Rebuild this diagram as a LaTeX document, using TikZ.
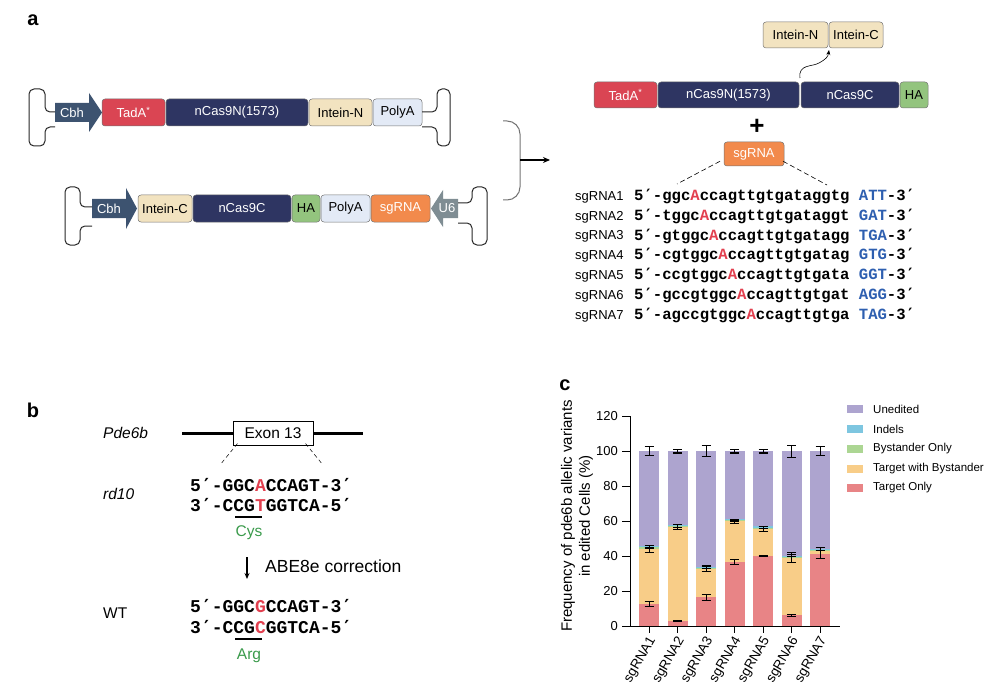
\documentclass[tikz,border=0pt]{standalone}
\usepackage{fontspec}
\setmainfont{Liberation Sans}
\newfontfamily\seqfont{Liberation Mono}
\newfontfamily\primefont{DejaVu Sans Mono}
\usetikzlibrary{arrows.meta}
\newcommand{\myfs}[1]{\fontsize{#1}{#1}\selectfont}
\definecolor{cbh}{HTML}{3D5370}
\definecolor{tada}{HTML}{DA4553}
\definecolor{ncas}{HTML}{2E3562}
\definecolor{intein}{HTML}{F2E3C0}
\definecolor{polya}{HTML}{E3EAF6}
\definecolor{haC}{HTML}{93C47E}
\definecolor{sgr}{HTML}{F28A4C}
\definecolor{usix}{HTML}{7F8D93}
\definecolor{seqred}{HTML}{E2404F}
\definecolor{pamblue}{HTML}{2E5FB0}
\definecolor{aagreen}{HTML}{3A9A4B}
\definecolor{cUned}{HTML}{ADA4CF}
\definecolor{cIndel}{HTML}{7EC6E0}
\definecolor{cByst}{HTML}{ACD693}
\definecolor{cTwB}{HTML}{F8CD88}
\definecolor{cTO}{HTML}{E88486}
\newcommand{\rA}[1]{\textcolor{seqred}{#1}}
\newcommand{\bP}[1]{\textcolor{pamblue}{#1}}
\newcommand{\pr}{{\primefont ′}}
\begin{document}
\begin{tikzpicture}[x=1pt,y=-1pt,
  gbox/.style={draw=black!55, line width=0.5pt, rounded corners=3pt, inner sep=0pt, minimum height=27pt, font=\myfs{13}},
  bkt/.style={draw=black!85, line width=1pt, rounded corners=5pt},
  plab/.style={font=\myfs{20}\bfseries, inner sep=0pt},
  seqa/.style={font=\seqfont\bfseries\myfs{15.6}, anchor=west, inner sep=0pt, text height=10pt, text depth=3pt},
  seqb/.style={font=\seqfont\bfseries\myfs{18}, anchor=west, inner sep=0pt, text height=11pt, text depth=3pt},
  lbl/.style={font=\myfs{13}, anchor=west, inner sep=0pt, text height=9.5pt, text depth=3pt},
  txtb/.style={font=\myfs{15.5}, anchor=west, inner sep=0pt},
  errb/.style={line width=1pt, draw=black},
  legsw/.style={minimum width=16pt, minimum height=8pt, inner sep=0pt},
  legtx/.style={font=\myfs{11.5}, anchor=west, inner sep=0pt},
]
\useasboundingbox (0,0) rectangle (1002,698);

% ---------------- panel a ----------------
\node[plab] (la) at (33,20) {a};

% plasmid 1
\fill[cbh] (55,103) -- (89,103) -- (89,93) -- (102,112.5) -- (89,132) -- (89,122) -- (55,122) -- cycle;
\node[font=\myfs{13}, text=white] (cbh1) at (72,112.5) {Cbh};
\node[gbox, fill=tada, text=white, minimum width=63pt] (tada1) at (133.5,112.5) {TadA\textsuperscript{*}};
\node[gbox, fill=ncas, text=white, minimum width=142pt] (ncasN1) at (237,112.5) {nCas9N(1573)};
\node[gbox, fill=intein, minimum width=63pt] (intN1) at (340.5,112.5) {Intein-N};
\node[gbox, fill=polya, minimum width=49pt] (polyA1) at (397.5,112.5) {PolyA};
\draw[bkt] (55,112) -- (45,112) -- (45,89) -- (29,89) -- (29,146) -- (45,146) -- (45,127) -- (55,127);
\draw[bkt] (422,112) -- (437,112) -- (437,89) -- (450,89) -- (450,146) -- (437,146) -- (437,127) -- (422,127);

% plasmid 2
\fill[cbh] (92,199) -- (126,199) -- (126,188) -- (137,208.5) -- (126,229) -- (126,218) -- (92,218) -- cycle;
\node[font=\myfs{13}, text=white] (cbh2) at (109,208.5) {Cbh};
\node[gbox, fill=intein, minimum width=54pt] (intC2) at (165,208.5) {Intein-C};
\node[gbox, fill=ncas, text=white, minimum width=98pt] (ncasC2) at (242,208.5) {nCas9C};
\node[gbox, fill=haC, minimum width=28pt] (ha2) at (306,208.5) {HA};
\node[gbox, fill=polya, minimum width=49pt] (polyA2) at (345.5,208.5) {PolyA};
\node[gbox, fill=sgr, text=white, minimum width=59pt] (sg2) at (400.5,208.5) {sgRNA};
\fill[usix] (431,208.5) -- (443,190) -- (443,199) -- (458,199) -- (458,218) -- (443,218) -- (443,227) -- cycle;
\node[font=\myfs{13}, text=white] (u6) at (447,208.5) {U6};
\draw[bkt] (92,207) -- (80,207) -- (80,187) -- (65,187) -- (65,245) -- (80,245) -- (80,226) -- (92,226);
\draw[bkt] (458,203) -- (472,203) -- (472,187) -- (487,187) -- (487,245) -- (472,245) -- (472,223) -- (458,223);

% merge bracket and arrow
\draw[draw=black!55, line width=1pt, rounded corners=13pt] (503,121) -- (520,121) -- (520,200) -- (503,200);
\coordinate (mfrom) at (520,160);
\coordinate (mto) at (550,160);
\draw[line width=1.6pt, -{Stealth[length=7pt,width=6pt]}] (mfrom) -- (mto);

% assembled protein
\node[gbox, fill=intein, minimum width=65pt, minimum height=26pt] (intN3) at (795.5,35) {Intein-N};
\node[gbox, fill=intein, minimum width=54pt, minimum height=26pt] (intC3) at (856,35) {Intein-C};
\node[gbox, fill=tada, text=white, minimum width=63pt, minimum height=26pt] (tada3) at (625.5,95) {TadA\textsuperscript{*}};
\node[gbox, fill=ncas, text=white, minimum width=141pt, minimum height=26pt] (ncasN3) at (728.5,95) {nCas9N(1573)};
\node[gbox, fill=ncas, text=white, minimum width=98pt, minimum height=26pt] (ncasC3) at (850,95) {nCas9C};
\node[gbox, fill=haC, minimum width=28pt, minimum height=26pt] (ha3) at (914,95) {HA};
\coordinate (jn) at (800,78);
\coordinate (ji) at (829,50);
\draw[line width=0.6pt, -{Stealth[length=5pt,width=4pt]}] (jn) .. controls (798,64) and (812,67) .. (819,63) .. controls (826,59) and (828,57) .. (ji);
\node[font=\myfs{26}\bfseries, inner sep=0pt] (plus) at (757,127) {+};
\node[gbox, fill=sgr, text=white, minimum width=60pt, minimum height=24pt] (sg3) at (754,154) {sgRNA};
\coordinate (dl) at (677,184);
\coordinate (dr) at (827,185);
\draw[line width=0.6pt, dash pattern=on 5pt off 3pt] ([xshift=-34pt,yshift=5pt]sg3.south) -- (dl);
\draw[line width=0.6pt, dash pattern=on 5pt off 3pt] ([xshift=29pt,yshift=5pt]sg3.south) -- (dr);

% sgRNA sequences
\node[lbl] (s1) at (575,197) {sgRNA1};
\node[lbl] (s2) at (575,216.8) {sgRNA2};
\node[lbl] (s3) at (575,236.6) {sgRNA3};
\node[lbl] (s4) at (575,256.4) {sgRNA4};
\node[lbl] (s5) at (575,276.2) {sgRNA5};
\node[lbl] (s6) at (575,296) {sgRNA6};
\node[lbl] (s7) at (575,315.8) {sgRNA7};
\node[seqa] (q1) at (634,197) {5\pr-ggc\rA{A}ccagttgtgataggtg \bP{ATT}-3\pr};
\node[seqa] (q2) at (634,216.8) {5\pr-tggc\rA{A}ccagttgtgataggt \bP{GAT}-3\pr};
\node[seqa] (q3) at (634,236.6) {5\pr-gtggc\rA{A}ccagttgtgatagg \bP{TGA}-3\pr};
\node[seqa] (q4) at (634,256.4) {5\pr-cgtggc\rA{A}ccagttgtgatag \bP{GTG}-3\pr};
\node[seqa] (q5) at (634,276.2) {5\pr-ccgtggc\rA{A}ccagttgtgata \bP{GGT}-3\pr};
\node[seqa] (q6) at (634,296) {5\pr-gccgtggc\rA{A}ccagttgtgat \bP{AGG}-3\pr};
\node[seqa] (q7) at (634,315.8) {5\pr-agccgtggc\rA{A}ccagttgtga \bP{TAG}-3\pr};

% ---------------- panel b ----------------
\node[plab] (lb) at (33,410) {b};
\node[txtb, font=\myfs{15.5}\itshape] (pde) at (103,433) {Pde6b};
\node[draw, line width=1pt, minimum width=80pt, minimum height=24pt, inner sep=0pt, font=\myfs{15.5}] (exon) at (273,433) {Exon 13};
\coordinate (gl) at (182,433);
\coordinate (gr) at (363,433);
\draw[line width=3pt] (gl) -- (exon.west);
\draw[line width=3pt] (exon.east) -- (gr);
\coordinate (edl) at (220,465);
\coordinate (edr) at (323,465);
\draw[line width=0.5pt, dash pattern=on 4pt off 3pt] ([xshift=5pt,yshift=2pt]exon.south west) -- (edl);
\draw[line width=0.5pt, dash pattern=on 4pt off 3pt] ([xshift=-8pt,yshift=2pt]exon.south east) -- (edr);
\node[txtb, font=\myfs{15.5}\itshape] (rd) at (103,494) {rd10};
\node[seqb] (m5) at (190,487) {5\pr-GGC\rA{A}CCAGT-3\pr};
\node[seqb] (m3) at (190,507) {3\pr-C\rlap{\hspace{2pt}\rule[-6.5pt]{27pt}{1.6pt}}CG\rA{T}GGTCA-5\pr};
\node[font=\myfs{15.5}, text=aagreen, inner sep=0pt] (cys) at (249,533) {Cys};
\coordinate (ca) at (247,557);
\coordinate (cb) at (247,579);
\draw[line width=1.2pt, -{Stealth[length=6pt,width=5pt]}] (ca) -- (cb);
\node[txtb, font=\myfs{17.5}] (abe) at (265,566) {ABE8e correction};
\node[txtb] (wt) at (103,613) {WT};
\node[seqb] (w5) at (190,608) {5\pr-GGC\rA{G}CCAGT-3\pr};
\node[seqb] (w3) at (190,629) {3\pr-C\rlap{\hspace{2pt}\rule[-6.5pt]{27pt}{1.6pt}}CG\rA{C}GGTCA-5\pr};
\node[font=\myfs{15.5}, text=aagreen, inner sep=0pt] (arg) at (249,656) {Arg};

% ---------------- panel c ----------------
\node[plab] (lc) at (565,385) {c};
\node[rotate=90, align=center, font=\myfs{15}, inner sep=0pt] (ylab) at (577,516) {Frequency of pde6b allelic variants\\[3pt]in edited Cells (\%)};

% bars
\foreach \i/\t/\o/\g/\b in {0/12.5/44.3/45/45.5, 1/2.8/56.5/57.1/57.6, 2/16.4/32.5/33.2/33.8, 3/36.7/60/60.5/61.2, 4/40/55.5/56.3/57, 5/6.1/39.2/40/40.3, 6/41/42.8/43.6/44.1}{
  \pgfmathsetmacro\cx{649+28.5*\i}
  \fill[cTO] ({\cx-10},626) rectangle ({\cx+10},{626-1.7475*\t});
  \fill[cTwB] ({\cx-10},{626-1.7475*\t}) rectangle ({\cx+10},{626-1.7475*\o});
  \fill[cByst] ({\cx-10},{626-1.7475*\o}) rectangle ({\cx+10},{626-1.7475*\g});
  \fill[cIndel] ({\cx-10},{626-1.7475*\g}) rectangle ({\cx+10},{626-1.7475*\b});
  \fill[cUned] ({\cx-10},{626-1.7475*\b}) rectangle ({\cx+10},{626-1.7475*100});
}
% error bars
\foreach \i/\lo/\hi in {0/11/14, 0/41.8/44.5, 0/44.8/46.2, 0/97.5/102.8,
  1/2.3/2.9, 1/55.2/56.6, 1/56.6/57.8, 1/99/101,
  2/14.5/18, 2/31/34, 2/33/34.6, 2/97/103.5,
  3/35/38, 3/58.5/60.3, 3/59.8/61, 3/99/101,
  4/39.5/40.5, 4/54/57, 4/56/57.2, 4/99/101,
  5/5.6/6.4, 5/36.5/41, 5/39.5/42, 5/96.5/103.5,
  6/38.5/43, 6/43.2/45, 6/97.5/103}{
  \pgfmathsetmacro\cx{649+28.5*\i}
  \draw[errb] ({\cx-4.5},{626-1.7475*\lo}) -- ({\cx+4.5},{626-1.7475*\lo})
              ({\cx},{626-1.7475*\lo}) -- ({\cx},{626-1.7475*\hi})
              ({\cx-4.5},{626-1.7475*\hi}) -- ({\cx+4.5},{626-1.7475*\hi});
}
% axes
\coordinate (ytop) at (630,416);
\coordinate (orig) at (630,626);
\coordinate (xend) at (840,626);
\draw[line width=1pt] (ytop) -- (orig) -- (xend);
\foreach \v in {0,20,...,120}{
  \draw[line width=1pt] (622,{626-1.7475*\v}) -- (630,{626-1.7475*\v});
  \node[anchor=east, font=\myfs{13}, inner sep=0pt] at (618,{626-1.7475*\v}) {\v};
}
\foreach \i in {1,...,7}{
  \pgfmathsetmacro\cx{649+28.5*(\i-1)}
  \draw[line width=1pt] (\cx,626) -- (\cx,633);
  \node[rotate=60, anchor=east, font=\myfs{13.5}, inner sep=0pt] at ({\cx+4},638) {sgRNA\i};
}
% legend
\node[legsw, fill=cUned] (k1) at (855,409) {};
\node[legsw, fill=cIndel] (k2) at (855,429) {};
\node[legsw, fill=cByst] (k3) at (855,449) {};
\node[legsw, fill=cTwB] (k4) at (855,469) {};
\node[legsw, fill=cTO] (k5) at (855,488) {};
\node[legtx] (t1) at (873,409) {Unedited};
\node[legtx] (t2) at (873,429) {Indels};
\node[legtx] (t3) at (873,449) {Bystander Only};
\node[legtx] (t4) at (873,469) {Target with Bystander};
\node[legtx] (t5) at (873,488) {Target Only};
\end{tikzpicture}
\end{document}
